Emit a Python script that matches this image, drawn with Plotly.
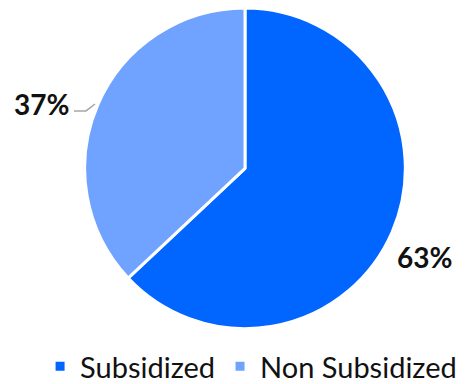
import plotly.graph_objects as go

# slice data
labels = ["Subsidized", "Non Subsidized"]
values = [63, 37]
colors = ["#0066FF", "#6FA3FF"]

W, H = 472, 384
total = sum(values)
pct = [f"{round(v * 100 / total)}%" for v in values]

fig = go.Figure(go.Pie(
    labels=labels,
    values=values,
    sort=False,
    direction="clockwise",
    rotation=0,
    marker=dict(colors=colors, line=dict(color="white", width=3)),
    textinfo="none",
    domain=dict(x=[75 / W, 399 / W], y=[1 - 324 / H, 1.0]),
    hoverinfo="label+percent",
))

# outside percentage labels
lab_font = dict(family="Lato", size=28, color="#111111")
fig.add_annotation(x=63 / W, y=1 - 97 / H, xref="paper", yref="paper",
                   text=f"<b>{pct[1]}</b>", showarrow=False,
                   xanchor="right", yanchor="middle", font=lab_font)
fig.add_annotation(x=387 / W, y=1 - 252 / H, xref="paper", yref="paper",
                   text=f"<b>{pct[0]}</b>", showarrow=False,
                   xanchor="left", yanchor="middle", font=lab_font)

# leader line for the small slice
fig.add_shape(type="path", xref="paper", yref="paper",
              path=f"M {66 / W} {1 - 104 / H} L {78 / W} {1 - 104 / H} L {87 / W} {1 - 97 / H}",
              line=dict(color="#A6A6A6", width=1.5))

fig.update_layout(
    width=W, height=H,
    margin=dict(l=0, r=0, t=0, b=0),
    paper_bgcolor="white",
    showlegend=True,
    legend=dict(orientation="h", x=0.515, xanchor="center", y=0.057, yanchor="middle",
                font=dict(family="Lato", size=29, color="#111111"),
                itemwidth=30),
)

fig.write_html("out.html")
